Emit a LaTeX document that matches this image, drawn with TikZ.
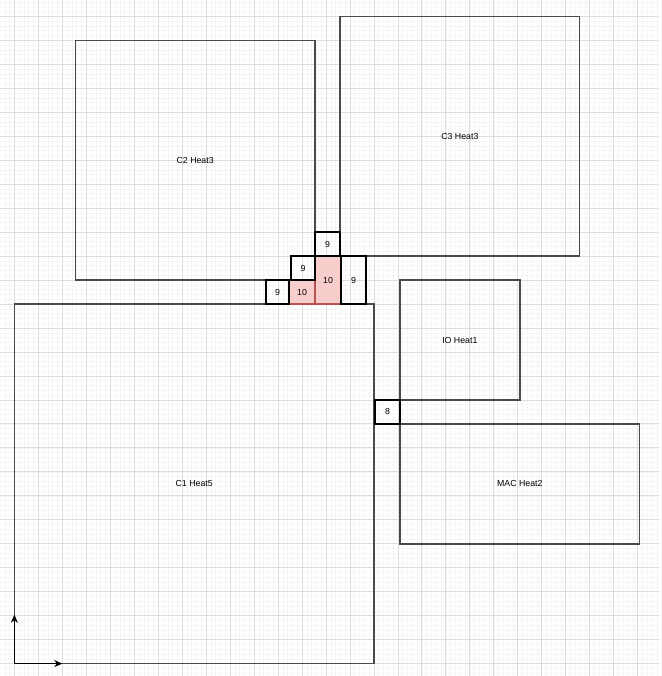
\documentclass[tikz,border=0pt]{standalone}
\usepackage{fontspec}
\setmainfont{Liberation Sans}
\newcommand*{\planfont}{\fontsize{7.5}{9}\selectfont}
\definecolor{minorgrid}{HTML}{F6F6F6}
\definecolor{majorgrid}{HTML}{DDDDDD}
\definecolor{outline}{HTML}{4A4A4A}
\definecolor{hot}{HTML}{F8CECC}
\definecolor{hotline}{HTML}{B85450}
\definecolor{black}{HTML}{000000}
\usepackage{tikz}
\usetikzlibrary{arrows.meta}
\tikzstyle{base}=[x=0.03cm, y=-0.03cm, inner sep=0pt, outer sep=0pt]
\tikzstyle{block}=[outline, line width=1.3pt]
\tikzstyle{cell}=[black, line width=1.5pt]
\tikzstyle{hotcell}=[hotline, fill=hot, line width=1pt]
\tikzstyle{axis}=[black, line width=1pt, -{Stealth[length=7pt, width=6pt]}]

\begin{document}
\begin{tikzpicture}[base]
    \planfont
        \fill [white] (0,0) rectangle (659,676);
        \foreach \i in {0,...,137} \draw [minorgrid, line width=0.5pt] ({4.4+4.8*\i},0) -- ++(0,676);
        \foreach \i in {0,...,140} \draw [minorgrid, line width=0.5pt] (0,{1.6+4.8*\i}) -- ++(659,0);
        \foreach \i in {0,...,26} \draw [majorgrid, line width=0.7pt] ({14+24*\i},0) -- ++(0,676);
        \foreach \i in {0,...,27} \draw [majorgrid, line width=0.7pt] (0,{16+24*\i}) -- ++(659,0);
        \draw [block] (75,40) rectangle (315,280);
        \node (c2) at (195,160) {C2 Heat3};
        \draw [block] (340,16) rectangle (580,256);
        \node (c3) at (460,136) {C3 Heat3};
        \draw [block] (14,304) rectangle (374,664);
        \node (c1) at (194,484) {C1 Heat5};
        \draw [block] (400,280) rectangle (520,400);
        \node (io) at (460,340) {IO Heat1};
        \draw [block] (400,424) rectangle (640,544);
        \node (mac) at (520,484) {MAC Heat2};
        \draw [hotcell] (315,256) rectangle (341,304);
        \node (hotA) at (328,280) {10};
        \draw [hotcell] (289,280) rectangle (315,304);
        \node (hotB) at (302,292) {10};
        \draw [cell] (315,232) rectangle (340,256);
        \node (nA) at (327.5,244) {9};
        \draw [cell] (291,256) rectangle (315,280);
        \node (nB) at (303,268) {9};
        \draw [cell] (341,256) rectangle (366,304);
        \node (nC) at (353.5,280) {9};
        \draw [cell] (266,280) rectangle (289,304);
        \node (nD) at (277.5,292) {9};
        \draw [cell] (375,400) rectangle (400,424);
        \node (nE) at (387.5,412) {8};
        \coordinate (origin) at (14,664);
        \coordinate (up) at (14,615);
        \coordinate (right) at (62,664);
        \draw [axis] (origin) -- (up);
        \draw [axis] (origin) -- (right);
        \path [use as bounding box] (0,0) rectangle (659,676);
    \end{tikzpicture}
\end{document}
